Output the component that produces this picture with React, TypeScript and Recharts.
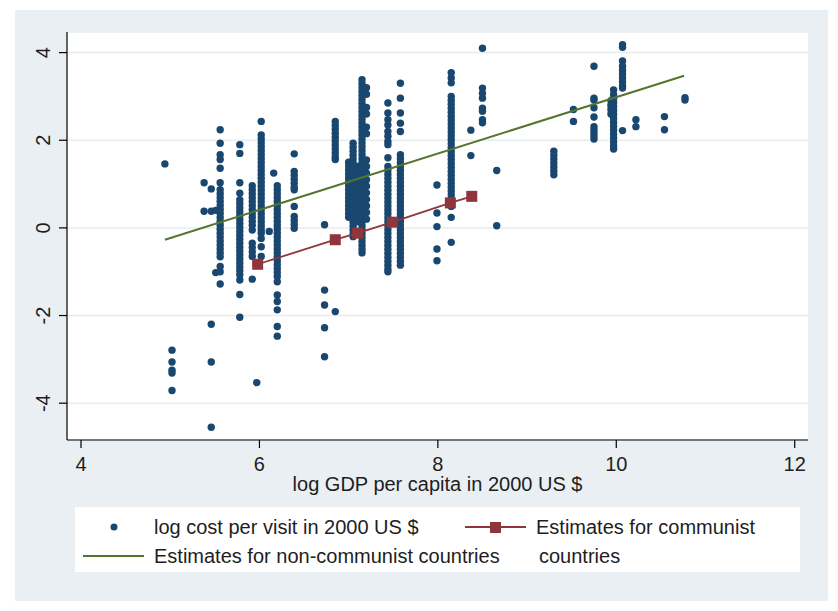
import React from "react";
import { ScatterChart, Scatter, XAxis, YAxis, CartesianGrid } from "recharts";

// ---- data (log GDP per capita column -> log cost per visit values) ----
const lowIncomeCols = [
  { gdp: 4.94, cost: [1.46] },
  { gdp: 5.02, cost: [-2.79, -3.06, -3.25, -3.31, -3.71] },
  { gdp: 5.38, cost: [1.03, 0.38] },
  { gdp: 5.46, cost: [0.89, 0.38, -2.2, -3.06, -4.55] },
  { gdp: 5.51, cost: [0.4, -1.02] },
  { gdp: 5.56, cost: [2.24, 1.93, 1.67, 1.56, 1.36, 1.03, 0.87, 0.78, 0.69, 0.6, 0.51, 0.42, 0.33, 0.24, 0.15, 0.06, -0.03, -0.12, -0.21, -0.3, -0.39, -0.48, -0.57, -0.66, -0.88, -1.0, -1.28] },
  { gdp: 5.78, cost: [1.9, 1.7, 1.03, 0.79, 0.64, 0.55, 0.46, 0.37, 0.28, 0.19, 0.1, 0.01, -0.08, -0.17, -0.26, -0.35, -0.44, -0.53, -0.62, -0.71, -0.8, -0.89, -0.98, -1.07, -1.19, -1.52, -2.04] },
  { gdp: 5.92, cost: [0.96, 0.87, 0.78, 0.69, 0.6, 0.51, 0.42, 0.33, 0.24, 0.15, 0.06, -0.05, -0.35, -0.45, -0.55, -0.65, -1.17] },
  { gdp: 5.97, cost: [-3.53] },
  { gdp: 6.02, cost: [2.43, 2.12, 2.03, 1.94, 1.85, 1.76, 1.67, 1.58, 1.49, 1.4, 1.31, 1.22, 1.13, 1.04, 0.95, 0.86, 0.77, 0.68, 0.59, 0.5, 0.41, 0.32, 0.23, 0.14, 0.05, -0.04, -0.12, -0.24, -0.43, -0.65] },
  { gdp: 6.11, cost: [-0.08] },
  { gdp: 6.16, cost: [1.25] },
  { gdp: 6.2, cost: [0.96, 0.87, 0.78, 0.69, 0.6, 0.51, 0.42, 0.33, 0.24, 0.15, 0.06, -0.03, -0.12, -0.21, -0.3, -0.39, -0.48, -0.57, -0.66, -0.75, -0.84, -0.93, -1.02, -1.11, -1.23, -1.53, -1.68, -1.87, -2.25, -2.47] },
  { gdp: 6.39, cost: [1.69, 1.29, 1.2, 1.11, 1.02, 0.93, 0.87, 0.49, 0.26, 0.17, 0.08, -0.01] },
];

const middleIncomeCols = [
  { gdp: 6.73, cost: [0.07, -1.42, -1.76, -2.28, -2.94] },
  { gdp: 6.85, cost: [2.43, 2.34, 2.25, 2.16, 2.07, 1.98, 1.89, 1.8, 1.71, 1.62, 1.56, -1.91] },
  { gdp: 7.0, cost: [1.5, 1.41, 1.32, 1.23, 1.14, 1.05, 0.96, 0.87, 0.78, 0.69, 0.6, 0.51, 0.42, 0.33, 0.24] },
  { gdp: 7.05, cost: [1.93, 1.84, 1.75, 1.66, 1.57, 1.48, 1.39, 1.3, 1.21, 1.12, 1.03, 0.94, 0.85, 0.76, 0.67, 0.58, 0.49, 0.4, 0.31, 0.22, 0.13, 0.04, -0.05, -0.14, -0.2] },
  { gdp: 7.1, cost: [1.4, 1.31, 1.22, 1.13, 1.04, 0.95, 0.86, 0.77, 0.68, 0.59, 0.5, 0.41, 0.32, 0.23, 0.14] },
  { gdp: 7.15, cost: [3.38, 3.29, 3.2, 3.11, 3.02, 2.93, 2.84, 2.75, 2.66, 2.57, 2.48, 2.39, 2.3, 2.21, 2.12, 2.03, 1.94, 1.85, 1.76, 1.67, 1.58, 1.49, 1.4, 1.31, 1.22, 1.13, 1.04, 0.95, 0.86, 0.77, 0.68, 0.59, 0.5, 0.41, 0.32, 0.23, 0.14, 0.05, -0.04, -0.13, -0.22, -0.31, -0.4, -0.49, -0.57] },
  { gdp: 7.2, cost: [3.2, 3.05, 2.75, 2.6, 2.3, 2.15, 1.55, 1.4, 1.25, 1.1, 0.95, 0.8, 0.65, 0.5, 0.35, 0.2] },
  { gdp: 7.44, cost: [2.85, 2.62, 2.47, 2.35, 2.2, 2.09, 1.97, 1.9, 1.6, 1.4, 1.31, 1.22, 1.13, 1.04, 0.95, 0.86, 0.77, 0.68, 0.59, 0.5, 0.41, 0.32, 0.23, 0.14, 0.05, -0.04, -0.13, -0.22, -0.31, -0.4, -0.49, -0.58, -0.67, -0.76, -0.85, -0.94, -1.0] },
  { gdp: 7.58, cost: [3.3, 2.96, 2.62, 2.39, 2.2, 1.67, 1.58, 1.49, 1.4, 1.31, 1.22, 1.13, 1.04, 0.95, 0.86, 0.77, 0.68, 0.59, 0.5, 0.41, 0.32, 0.23, 0.14, 0.05, -0.04, -0.13, -0.22, -0.31, -0.4, -0.49, -0.58, -0.67, -0.76, -0.85] },
];

const highIncomeCols = [
  { gdp: 7.99, cost: [0.98, 0.34, 0.03, -0.48, -0.75] },
  { gdp: 8.15, cost: [3.54, 3.42, 3.31, 3.0, 2.91, 2.82, 2.73, 2.64, 2.55, 2.46, 2.37, 2.28, 2.19, 2.1, 2.01, 1.92, 1.83, 1.74, 1.65, 1.56, 1.47, 1.38, 1.29, 1.2, 1.11, 1.02, 0.93, 0.84, 0.75, 0.66, 0.57, 0.49, 0.24, -0.33] },
  { gdp: 8.37, cost: [2.23, 1.65] },
  { gdp: 8.5, cost: [4.1, 3.19, 3.07, 2.96, 2.73, 2.66, 2.47, 2.4] },
  { gdp: 8.66, cost: [1.31, 0.05] },
  { gdp: 9.3, cost: [1.75, 1.66, 1.57, 1.48, 1.39, 1.3, 1.21] },
  { gdp: 9.52, cost: [2.7, 2.43] },
  { gdp: 9.75, cost: [3.69, 2.96, 2.92, 2.74, 2.53, 2.31, 2.24, 2.17, 2.1, 2.03] },
  { gdp: 9.94, cost: [2.9, 2.8, 2.7, 2.6] },
  { gdp: 9.97, cost: [3.15, 3.04, 2.95, 2.86, 2.77, 2.68, 2.59, 2.5, 2.41, 2.32, 2.23, 2.14, 2.05, 1.96, 1.87, 1.8] },
  { gdp: 10.07, cost: [4.18, 4.12, 3.81, 3.69, 3.6, 3.51, 3.42, 3.33, 3.24, 3.19, 2.22] },
  { gdp: 10.22, cost: [2.47, 2.31] },
  { gdp: 10.54, cost: [2.54, 2.24] },
  { gdp: 10.77, cost: [2.97, 2.92] },
];

const nonCommunistFitX = [4.94, 10.76];
const nonCommunistFitY = [-0.27, 3.47];

const communistX = [5.98, 6.85, 7.1, 7.49, 8.14, 8.38];
const communistY = [-0.83, -0.27, -0.12, 0.13, 0.57, 0.72];

const xTicks = [4, 6, 8, 10, 12];
const yTicks = [-4, -2, 0, 2, 4];

const xLabel = "log GDP per capita in 2000 US $";
const legendLabels = [
  "log cost per visit in 2000 US $",
  "Estimates for communist",
  "countries",
  "Estimates for non-communist countries",
];

// ---- build tables ----
const observed = [...lowIncomeCols, ...middleIncomeCols, ...highIncomeCols].flatMap((c) =>
  c.cost.map((y) => ({ x: c.gdp, y }))
);
const nonCommunistFit = nonCommunistFitX.map((x, i) => ({ x, y: nonCommunistFitY[i] }));
const communistFit = communistX.map((x, i) => ({ x, y: communistY[i] }));

const FONT = "'Liberation Sans', Arial, Helvetica, sans-serif";
const NAVY = "#1a476f";
const MAROON = "#90353b";
const GREEN = "#55752f";
const TEXT = "#1e1e1e";

const Dot = (p: any) => <circle cx={p.cx} cy={p.cy} r={3.7} fill={NAVY} />;
const Square = (p: any) => <rect x={p.cx - 5.5} y={p.cy - 5.5} width={11} height={11} fill={MAROON} />;
const NoShape = () => <g />;

const XTick = (p: any) => (
  <text x={p.x} y={471} textAnchor="middle" fontSize={20} fontFamily={FONT} fill={TEXT}>
    {p.payload.value}
  </text>
);
const YTick = (p: any) => (
  <text
    x={43}
    y={p.y}
    transform={`rotate(-90, 43, ${p.y})`}
    textAnchor="middle"
    dy={7}
    fontSize={20}
    fontFamily={FONT}
    fill={TEXT}
  >
    {p.payload.value}
  </text>
);

export default function App() {
  return (
    <div style={{ position: "absolute", left: 0, top: 0, width: 838, height: 611, background: "#ffffff", overflow: "hidden" }}>
      <div style={{ position: "absolute", left: 15, top: 10, width: 813, height: 591, background: "#e9eff3" }} />
      <div style={{ position: "absolute", left: 0, top: 0 }}>
        <ScatterChart width={838} height={611} margin={{ top: 32, right: 30, bottom: 141, left: 17 }}>
          <CartesianGrid horizontal vertical={false} stroke="#e9eced" strokeWidth={1.5} fill="#ffffff" />
          <XAxis
            type="number"
            dataKey="x"
            domain={[3.843, 12.149]}
            ticks={xTicks}
            allowDataOverflow
            height={30}
            tickSize={8}
            tick={<XTick />}
            axisLine={{ stroke: "#000", strokeWidth: 1.2 }}
            tickLine={{ stroke: "#000", strokeWidth: 1.2 }}
          />
          <YAxis
            type="number"
            dataKey="y"
            domain={[-4.84, 4.47]}
            ticks={yTicks}
            allowDataOverflow
            width={50}
            tickSize={8}
            tick={<YTick />}
            axisLine={{ stroke: "#000", strokeWidth: 1.2 }}
            tickLine={{ stroke: "#000", strokeWidth: 1.2 }}
          />
          <Scatter data={observed} shape={<Dot />} isAnimationActive={false} />
          <Scatter
            data={nonCommunistFit}
            line={{ stroke: GREEN, strokeWidth: 2 }}
            shape={<NoShape />}
            isAnimationActive={false}
          />
          <Scatter
            data={communistFit}
            line={{ stroke: MAROON, strokeWidth: 1.8 }}
            shape={<Square />}
            isAnimationActive={false}
          />
        </ScatterChart>
      </div>
      <svg width={838} height={611} style={{ position: "absolute", left: 0, top: 0, pointerEvents: "none" }}>
        <text x={437.5} y={491} textAnchor="middle" fontSize={20} fontFamily={FONT} fill={TEXT}>
          {xLabel}
        </text>
        <rect x={75} y={507} width={725} height={65} fill="#ffffff" />
        <circle cx={114} cy={527} r={3.5} fill={NAVY} />
        <text x={154} y={534} fontSize={20} fontFamily={FONT} fill={TEXT}>{legendLabels[0]}</text>
        <line x1={465} y1={527} x2={526} y2={527} stroke={MAROON} strokeWidth={1.8} />
        <rect x={490} y={522} width={11} height={11} fill={MAROON} />
        <text x={536} y={534} fontSize={20} fontFamily={FONT} fill={TEXT}>{legendLabels[1]}</text>
        <text x={539} y={563} fontSize={20} fontFamily={FONT} fill={TEXT}>{legendLabels[2]}</text>
        <line x1={83} y1={556} x2={144} y2={556} stroke={GREEN} strokeWidth={2} />
        <text x={154} y={563} fontSize={20} fontFamily={FONT} fill={TEXT}>{legendLabels[3]}</text>
      </svg>
    </div>
  );
}
